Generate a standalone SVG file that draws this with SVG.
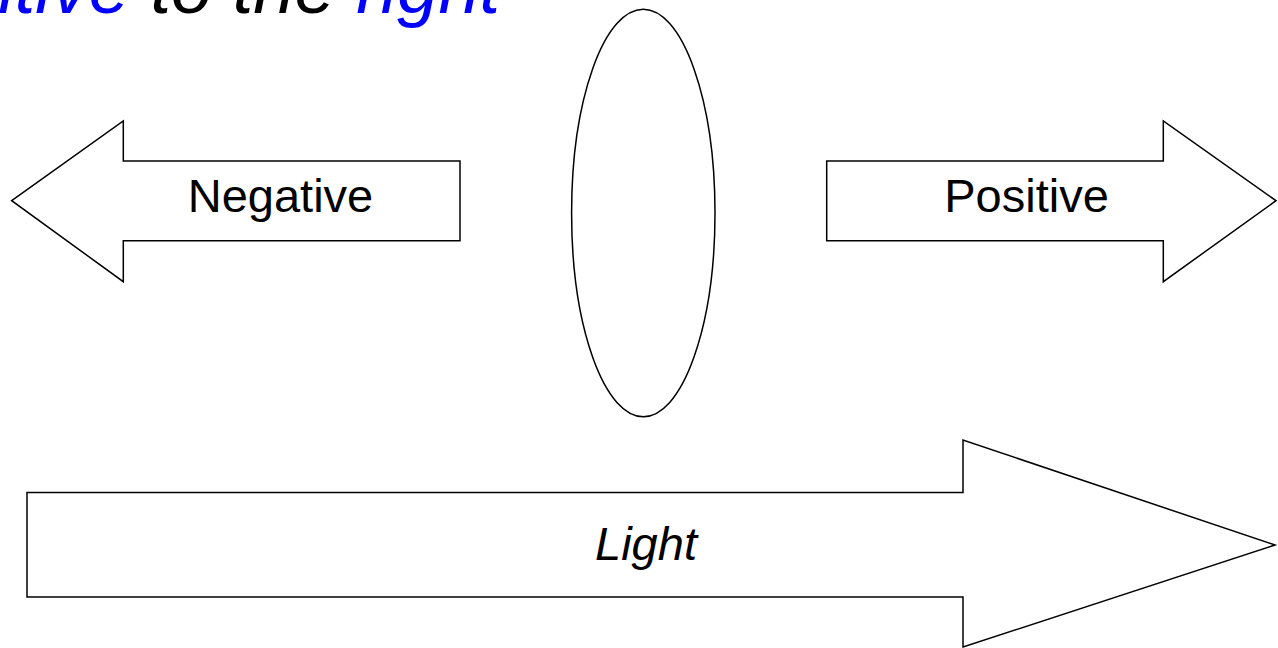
<svg xmlns="http://www.w3.org/2000/svg" width="1278" height="648" viewBox="0 0 1278 648">
  <style>
    .shape { fill: #ffffff; stroke: #000000; stroke-width: 1.5; stroke-linejoin: miter; }
    .label { font-family: "Liberation Sans", Arial, sans-serif; font-size: 47px; fill: #000000; text-anchor: middle; }
    .title { font-family: "Liberation Sans", Arial, sans-serif; font-size: 74px; font-style: italic; fill: #000000; }
    .hl { fill: #0000ff; }
  </style>
  <rect width="1278" height="648" fill="#ffffff"/>

  <!-- heading, running off the top-left edge -->
  <g id="title">
    <text class="title" x="-121" y="13"><tspan class="hl">positive</tspan> to the <tspan class="hl">right</tspan></text>
  </g>

  <!-- lens -->
  <g id="lens">
    <ellipse class="shape" cx="643.3" cy="213" rx="71.7" ry="203.7"/>
  </g>

  <!-- direction arrows -->
  <g id="negative">
    <polygon class="shape" points="11.7,200.7 123.3,121 123.3,161 460,161 460,240.7 123.3,240.7 123.3,281.7"/>
    <text class="label" x="280.5" y="211.7">Negative</text>
  </g>

  <g id="positive">
    <polygon class="shape" points="1276,200.7 1163.3,121 1163.3,161 826.7,161 826.7,240.7 1163.3,240.7 1163.3,281.7"/>
    <text class="label" x="1026.5" y="211.7">Positive</text>
  </g>

  <g id="light">
    <polygon class="shape" points="1275,545 963,440 963,492.5 27,492.5 27,597 963,597 963,647"/>
    <text class="label" x="646" y="560" font-size="46" font-style="italic">Light</text>
  </g>

  <g id="connectors"></g>
</svg>
